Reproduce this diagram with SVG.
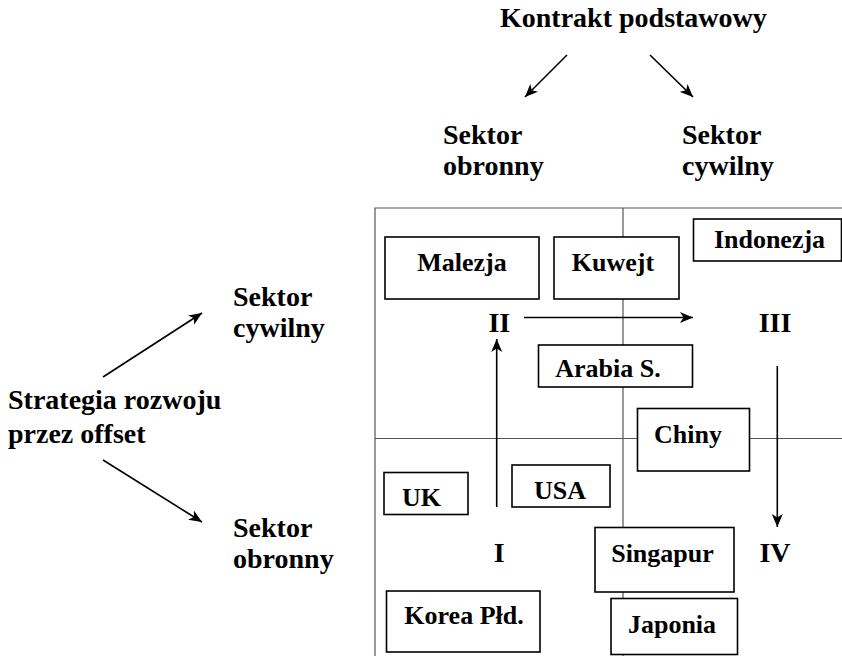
<svg xmlns="http://www.w3.org/2000/svg" width="842" height="656" viewBox="0 0 842 656">
<defs>
<style>
text{font-family:'Liberation Serif','Times New Roman',Tinos,'DejaVu Serif',serif;font-weight:700;fill:#000}
.lbl{font-size:28px}
.box text{font-size:26px;text-anchor:middle}
.box rect{fill:#fff;stroke:#000;stroke-width:1.6}
.grid{stroke:#555;stroke-width:1.2;fill:none}
.arr{stroke:#000;stroke-width:1.6;fill:none;marker-end:url(#ah)}
.num{font-size:28px;text-anchor:middle}
</style>
<marker id="ah" markerUnits="userSpaceOnUse" markerWidth="14" markerHeight="12" viewBox="0 -6 14 12" refX="13" refY="0" orient="auto">
<path d="M0,-5.5 L13,0 L0,5.5 L3.5,0 Z" fill="#000"/>
</marker>
</defs>
<rect width="842" height="656" fill="#fff"/>

<g id="grid">
<path class="grid" d="M375,656 V208 H842 M623,208 V656 M375,438.5 H842"/>
</g>

<g id="connectors">
<line class="arr" x1="567" y1="55" x2="525" y2="97"/>
<line class="arr" x1="650" y1="55" x2="693" y2="97"/>
<line class="arr" x1="103" y1="377" x2="202" y2="313"/>
<line class="arr" x1="103" y1="460" x2="202" y2="522"/>
<line class="arr" x1="524" y1="317.5" x2="693" y2="317.5"/>
<line class="arr" x1="496.7" y1="507" x2="496.7" y2="339"/>
<line class="arr" x1="777.3" y1="366" x2="777.3" y2="527"/>
</g>

<g id="labels" font-family="'Liberation Serif', 'Times New Roman', serif">
<text class="lbl" x="500" y="27">Kontrakt podstawowy</text>
<text class="lbl" x="443" y="144">Sektor</text>
<text class="lbl" x="443" y="175">obronny</text>
<text class="lbl" x="682" y="144">Sektor</text>
<text class="lbl" x="682" y="175">cywilny</text>
<text class="lbl" x="8" y="409">Strategia rozwoju</text>
<text class="lbl" x="8" y="443">przez offset</text>
<text class="lbl" x="233" y="306">Sektor</text>
<text class="lbl" x="233" y="337">cywilny</text>
<text class="lbl" x="233" y="537">Sektor</text>
<text class="lbl" x="233" y="568">obronny</text>
</g>

<g id="quadrants">
<text class="num" x="499.3" y="332">II</text>
<text class="num" x="775" y="332">III</text>
<text class="num" x="499.3" y="562">I</text>
<text class="num" x="775" y="562">IV</text>
</g>

<g id="malezja" class="box"><rect x="385" y="237" width="154" height="62"/><text x="462" y="271">Malezja</text></g>
<g id="kuwejt" class="box"><rect x="554" y="237" width="125" height="62"/><text x="613" y="271">Kuwejt</text></g>
<g id="indonezja" class="box"><rect x="693.5" y="219" width="148" height="42"/><text x="769.5" y="248">Indonezja</text></g>
<g id="arabia" class="box"><rect x="538.5" y="345" width="154" height="42"/><text x="608" y="377">Arabia S.</text></g>
<g id="chiny" class="box"><rect x="637.5" y="408.5" width="112" height="62.5"/><text x="688" y="443">Chiny</text></g>
<g id="uk" class="box"><rect x="384" y="472.5" width="84" height="42"/><text x="421.5" y="506">UK</text></g>
<g id="usa" class="box"><rect x="512" y="465" width="98" height="42"/><text x="560" y="499">USA</text></g>
<g id="singapur" class="box"><rect x="595" y="527.5" width="139" height="64.5"/><text x="662.5" y="562">Singapur</text></g>
<g id="korea" class="box"><rect x="386.5" y="591" width="153.5" height="61"/><text x="464" y="623.5">Korea Płd.</text></g>
<g id="japonia" class="box"><rect x="611" y="598.5" width="126.5" height="56"/><text x="672" y="632.5">Japonia</text></g>
</svg>
